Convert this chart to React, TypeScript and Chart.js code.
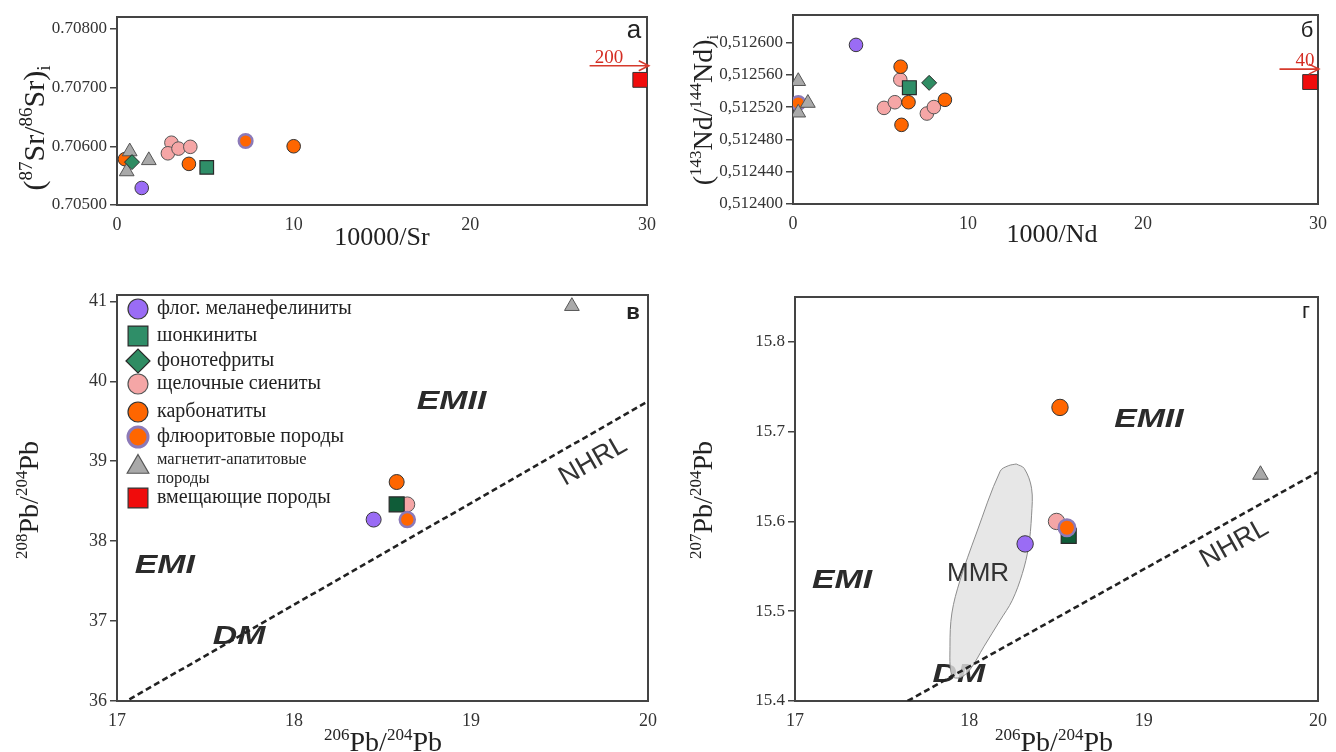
import React, { useEffect, useRef } from 'react';
import { Chart, registerables } from 'chart.js';
import { drawPoint } from 'chart.js/helpers';

Chart.register(...registerables);

const SERIF = '"Liberation Serif", "Times New Roman", serif';
const SANS = '"Liberation Sans", Arial, sans-serif';

// ---------------- Panel а : (87Sr/86Sr)i vs 10000/Sr ----------------
const SR_X_TICKS = [0, 10, 20, 30];
const SR_Y_TICKS = [0.705, 0.706, 0.707, 0.708];
const SR_PHLOG = [{ x: 1.4, y: 0.70529 }];
const SR_SHONK = [{ x: 5.08, y: 0.70564 }];
const SR_PHONO = [{ x: 0.85, y: 0.70573 }];
const SR_SYEN = [
  { x: 3.08, y: 0.70606 },
  { x: 2.88, y: 0.70588 },
  { x: 3.48, y: 0.70596 },
  { x: 4.15, y: 0.70599 },
];
const SR_CARB = [
  { x: 0.45, y: 0.70578 },
  { x: 4.07, y: 0.7057 },
  { x: 10.0, y: 0.706 },
];
const SR_FLUOR = [{ x: 7.28, y: 0.70609 }];
const SR_MAGAP = [
  { x: 0.72, y: 0.70591 },
  { x: 0.55, y: 0.70557 },
  { x: 1.8, y: 0.70576 },
];
const SR_HOST = [{ x: 29.62, y: 0.70713 }];
const SR_ARROW = [
  { x: 26.75, y: 0.70737 },
  { x: 30.1, y: 0.70737 },
];
const SR_ARROW_LABEL = { x: 27.85, text: '200' };

// ---------------- Panel б : (143Nd/144Nd)i vs 1000/Nd ----------------
const ND_X_TICKS = [0, 10, 20, 30];
const ND_Y_TICKS = [0.5124, 0.51244, 0.51248, 0.51252, 0.51256, 0.5126];
const ND_PHLOG = [{ x: 3.6, y: 0.512597 }];
const ND_SHONK = [{ x: 6.65, y: 0.512544 }];
const ND_PHONO = [{ x: 7.78, y: 0.51255 }];
const ND_SYEN = [
  { x: 6.13, y: 0.512554 },
  { x: 5.2, y: 0.512519 },
  { x: 5.82, y: 0.512526 },
  { x: 7.65, y: 0.512512 },
  { x: 8.05, y: 0.51252 },
];
const ND_CARB = [
  { x: 6.15, y: 0.51257 },
  { x: 6.6, y: 0.512526 },
  { x: 8.68, y: 0.512529 },
  { x: 6.2, y: 0.512498 },
];
const ND_FLUOR = [{ x: 0.3, y: 0.512525 }];
const ND_MAGAP = [
  { x: 0.3, y: 0.512552 },
  { x: 0.85, y: 0.512525 },
  { x: 0.3, y: 0.512513 },
];
const ND_HOST = [{ x: 29.55, y: 0.512551 }];
const ND_ARROW = [
  { x: 27.8, y: 0.512567 },
  { x: 30.05, y: 0.512567 },
];
const ND_ARROW_LABEL = { x: 29.25, text: '40' };

// ---------------- Panel в : 208Pb/204Pb vs 206Pb/204Pb ----------------
const PB_X_TICKS = [17, 18, 19, 20];
const PB8_Y_TICKS = [36, 37, 38, 39, 40, 41];
const PB8_PHLOG = [{ x: 18.45, y: 38.27 }];
const PB8_SHONK = [{ x: 18.58, y: 38.46 }];
const PB8_SYEN = [{ x: 18.64, y: 38.46 }];
const PB8_CARB = [{ x: 18.58, y: 38.74 }];
const PB8_FLUOR = [{ x: 18.64, y: 38.27 }];
const PB8_MAGAP = [{ x: 19.57, y: 40.94 }];
const NHRL_208 = [
  { x: 17.07, y: 36.02 },
  { x: 20, y: 39.75 },
];
const PB8_FIELDS = [
  { label: 'EMII', x: 18.89, y: 39.74 },
  { label: 'EMI', x: 17.27, y: 37.69 },
  { label: 'DM', x: 17.69, y: 36.8 },
];
const PB8_NHRL_LABEL = { label: 'NHRL', x: 19.69, y: 39.0 };

// ---------------- Panel г : 207Pb/204Pb vs 206Pb/204Pb ----------------
const PB7_Y_TICKS = [15.4, 15.5, 15.6, 15.7, 15.8];
const PB7_PHLOG = [{ x: 18.32, y: 15.575 }];
const PB7_SHONK = [{ x: 18.57, y: 15.584 }];
const PB7_SYEN = [{ x: 18.5, y: 15.6 }];
const PB7_CARB = [{ x: 18.52, y: 15.727 }];
const PB7_FLUOR = [{ x: 18.56, y: 15.593 }];
const PB7_MAGAP = [{ x: 19.67, y: 15.652 }];
const NHRL_207 = [
  { x: 17.646, y: 15.4 },
  { x: 20, y: 15.655 },
];
const MMR_FIELD = [
  { x: 18.269, y: 15.664 },
  { x: 18.315, y: 15.659 },
  { x: 18.357, y: 15.637 },
  { x: 18.357, y: 15.607 },
  { x: 18.339, y: 15.571 },
  { x: 18.304, y: 15.542 },
  { x: 18.246, y: 15.512 },
  { x: 18.177, y: 15.49 },
  { x: 18.085, y: 15.461 },
  { x: 18.004, y: 15.435 },
  { x: 17.946, y: 15.426 },
  { x: 17.9, y: 15.428 },
  { x: 17.889, y: 15.461 },
  { x: 17.9, y: 15.498 },
  { x: 17.946, y: 15.534 },
  { x: 18.039, y: 15.586 },
  { x: 18.177, y: 15.656 },
  { x: 18.223, y: 15.662 },
  { x: 18.269, y: 15.664 },
];
const PB7_FIELDS = [
  { label: 'EMII', x: 19.03, y: 15.713 },
  { label: 'EMI', x: 17.27, y: 15.534 },
  { label: 'DM', x: 17.94, y: 15.429 },
];
const PB7_MMR_LABEL = { label: 'MMR', x: 18.05, y: 15.542 };
const PB7_NHRL_LABEL = { label: 'NHRL', x: 19.52, y: 15.575 };

// ---------------- Legend ----------------
const LEGEND_KEYS = ['phlog', 'shonk', 'phono', 'syen', 'carb', 'fluor', 'magap', 'host'];
const LEGEND_LABELS = [
  ['флог. меланефелиниты'],
  ['шонкиниты'],
  ['фонотефриты'],
  ['щелочные сиениты'],
  ['карбонатиты'],
  ['флюоритовые породы'],
  ['магнетит-апатитовые', 'породы'],
  ['вмещающие породы'],
];

// ---------------- styles / layout ----------------
type Sty = { pointStyle: string; bg: string; border: string; bw: number };
const STY: Record<string, Sty> = {
  phlog: { pointStyle: 'circle', bg: '#9a6cf5', border: '#3a3a3a', bw: 1 },
  shonk: { pointStyle: 'rect', bg: '#2f8e68', border: '#2a2a2a', bw: 1.2 },
  phono: { pointStyle: 'rectRot', bg: '#2f8c63', border: '#2a2a2a', bw: 1 },
  syen: { pointStyle: 'circle', bg: '#f5a6a6', border: '#555555', bw: 1 },
  carb: { pointStyle: 'circle', bg: '#ff6600', border: '#333333', bw: 1 },
  fluor: { pointStyle: 'circle', bg: '#ff6600', border: '#8c7ab8', bw: 2.5 },
  magap: { pointStyle: 'triangle', bg: '#a9a9a9', border: '#555555', bw: 1 },
  host: { pointStyle: 'rect', bg: '#f00c0c', border: '#333333', bw: 1 },
};
const DARK_SHONK = '#0f5c38';

type Radii = Record<string, number>;
const R_A: Radii = { circle: 6.8, rect: 9.6, rectRot: 7.5, triangle: 8.5 };
const R_B: Radii = { circle: 6.8, rect: 9.8, rectRot: 7.5, triangle: 8.5 };
const R_C: Radii = { circle: 7.5, rect: 10.6, rectRot: 8, triangle: 8.5 };
const R_D: Radii = { circle: 8.2, rect: 10.6, rectRot: 8, triangle: 9 };
const R_LEG: Radii = { circle: 10, rect: 14, rectRot: 12, triangle: 12.5 };

type Layout = { cx: number; cy: number; cw: number; ch: number; L: number; T: number; R: number; B: number };
const LAYOUT_A: Layout = { cx: 0, cy: 0, cw: 668, ch: 260, L: 117, T: 17, R: 647, B: 205 };
const LAYOUT_B: Layout = { cx: 668, cy: 0, cw: 668, ch: 260, L: 793, T: 15, R: 1323, B: 204 };
const LAYOUT_C: Layout = { cx: 0, cy: 260, cw: 668, ch: 492, L: 117, T: 295, R: 648, B: 701 };
const LAYOUT_D: Layout = { cx: 668, cy: 260, cw: 668, ch: 492, L: 795, T: 297, R: 1321, B: 701 };

type Seg = { t: string; k?: 'sup' | 'sub' };
const SR_Y_TITLE: Seg[] = [{ t: '(' }, { t: '87', k: 'sup' }, { t: 'Sr/' }, { t: '86', k: 'sup' }, { t: 'Sr)' }, { t: 'i', k: 'sub' }];
const ND_Y_TITLE: Seg[] = [{ t: '(' }, { t: '143', k: 'sup' }, { t: 'Nd/' }, { t: '144', k: 'sup' }, { t: 'Nd)' }, { t: 'i', k: 'sub' }];
const PB208_TITLE: Seg[] = [{ t: '208', k: 'sup' }, { t: 'Pb/' }, { t: '204', k: 'sup' }, { t: 'Pb' }];
const PB207_TITLE: Seg[] = [{ t: '207', k: 'sup' }, { t: 'Pb/' }, { t: '204', k: 'sup' }, { t: 'Pb' }];
const PB206_TITLE: Seg[] = [{ t: '206', k: 'sup' }, { t: 'Pb/' }, { t: '204', k: 'sup' }, { t: 'Pb' }];

// ---------------- helpers ----------------
function pts(data: any[], key: string, r: Radii, colorOverride?: string) {
  const s = STY[key];
  return {
    data,
    showLine: false,
    pointStyle: s.pointStyle,
    pointRadius: r[s.pointStyle],
    pointBackgroundColor: colorOverride || s.bg,
    pointBorderColor: s.border,
    pointBorderWidth: s.bw,
  };
}

function lineDs(data: any[]) {
  return {
    data,
    showLine: true,
    borderColor: '#222',
    borderWidth: 2.6,
    borderDash: [6, 3.5],
    pointRadius: 0,
    fill: false,
  };
}

function text(ctx: CanvasRenderingContext2D, s: string, x: number, y: number, font: string, color: string,
  align: CanvasTextAlign = 'center', baseline: CanvasTextBaseline = 'middle', rot = 0, stretch = 1) {
  ctx.save();
  ctx.translate(x, y);
  if (rot) ctx.rotate(rot);
  if (stretch !== 1) ctx.scale(stretch, 1);
  ctx.font = font;
  ctx.fillStyle = color;
  ctx.textAlign = align;
  ctx.textBaseline = baseline;
  ctx.fillText(s, 0, 0);
  ctx.restore();
}

function rich(ctx: CanvasRenderingContext2D, segs: Seg[], x: number, y: number, size: number, color: string, rot = 0) {
  ctx.save();
  ctx.translate(x, y);
  if (rot) ctx.rotate(rot);
  ctx.fillStyle = color;
  ctx.textBaseline = 'alphabetic';
  ctx.textAlign = 'left';
  const f = (k?: string) => `${k ? Math.round(size * 0.62) : size}px ${SERIF}`;
  let total = 0;
  const ws = segs.map((s) => {
    ctx.font = f(s.k);
    const w = ctx.measureText(s.t).width;
    total += w;
    return w;
  });
  let cx = -total / 2;
  segs.forEach((s, i) => {
    ctx.font = f(s.k);
    const dy = s.k === 'sup' ? -size * 0.4 : s.k === 'sub' ? size * 0.2 : 0;
    ctx.fillText(s.t, cx, dy);
    cx += ws[i];
  });
  ctx.restore();
}

function P(chart: any, x: number, y: number) {
  return [chart.scales.x.getPixelForValue(x), chart.scales.y.getPixelForValue(y)];
}

function drawArrow(chart: any, arrow: { x: number; y: number }[], label: { x: number; text: string }) {
  const ctx = chart.ctx as CanvasRenderingContext2D;
  const [x0, y0] = P(chart, arrow[0].x, arrow[0].y);
  const [x1, y1] = P(chart, arrow[1].x, arrow[1].y);
  ctx.save();
  ctx.strokeStyle = '#d63a2c';
  ctx.lineWidth = 1.6;
  ctx.beginPath();
  ctx.moveTo(x0, y0);
  ctx.lineTo(x1, y1);
  ctx.moveTo(x1 - 10, y1 - 5);
  ctx.lineTo(x1, y1);
  ctx.lineTo(x1 - 10, y1 + 5);
  ctx.stroke();
  ctx.restore();
  const [lx] = P(chart, label.x, arrow[0].y);
  text(ctx, label.text, lx, y0 - 3, `19px ${SERIF}`, '#d42c22', 'center', 'alphabetic');
}

function fieldLabels(chart: any, items: { label: string; x: number; y: number }[]) {
  const ctx = chart.ctx as CanvasRenderingContext2D;
  items.forEach((it) => {
    const [x, y] = P(chart, it.x, it.y);
    text(ctx, it.label, x, y, `italic bold 26px ${SANS}`, '#2b2b2b', 'center', 'middle', 0, 1.3);
  });
}

function nhrlLabel(chart: any, line: { x: number; y: number }[], lab: { label: string; x: number; y: number }) {
  const ctx = chart.ctx as CanvasRenderingContext2D;
  const [ax, ay] = P(chart, line[0].x, line[0].y);
  const [bx, by] = P(chart, line[1].x, line[1].y);
  const ang = Math.atan2(by - ay, bx - ax);
  const [x, y] = P(chart, lab.x, lab.y);
  text(ctx, lab.label, x, y, `27px ${SANS}`, '#333', 'center', 'middle', ang);
}

function makeOptions(lay: Layout, xr: number[], yr: number[], xTicks: number[], yTicks: number[],
  fmtY: (v: number) => string, yFont: number) {
  return {
    animation: false,
    responsive: false,
    maintainAspectRatio: false,
    events: [],
    layout: { padding: { top: lay.T - lay.cy, right: lay.cx + lay.cw - lay.R, left: 0, bottom: 0 } },
    plugins: { legend: { display: false }, tooltip: { enabled: false } },
    scales: {
      x: {
        type: 'linear',
        min: xr[0],
        max: xr[1],
        afterFit: (s: any) => { s.height = lay.cy + lay.ch - lay.B; },
        afterBuildTicks: (s: any) => { s.ticks = xTicks.map((v) => ({ value: v })); },
        grid: { display: false, drawTicks: false },
        border: { display: false },
        ticks: {
          callback: (v: number) => String(v),
          font: { family: SERIF, size: 18 },
          color: '#333',
          padding: 9,
          maxRotation: 0,
          autoSkip: false,
        },
      },
      y: {
        type: 'linear',
        min: yr[0],
        max: yr[1],
        afterFit: (s: any) => { s.width = lay.L - lay.cx; },
        afterBuildTicks: (s: any) => { s.ticks = yTicks.map((v) => ({ value: v })); },
        grid: { display: true, drawOnChartArea: false, drawTicks: true, tickLength: 7, color: '#444', lineWidth: 1.5 },
        border: { display: false },
        ticks: {
          callback: (v: number) => fmtY(v),
          font: { family: SERIF, size: yFont },
          color: '#333',
          padding: 3,
          autoSkip: false,
        },
      },
    },
  };
}

function framePlugin() {
  return {
    id: 'frame',
    beforeDatasetsDraw(chart: any) {
      const { ctx, chartArea: a } = chart;
      ctx.save();
      ctx.strokeStyle = '#444';
      ctx.lineWidth = 2;
      ctx.strokeRect(a.left, a.top, a.right - a.left, a.bottom - a.top);
      ctx.restore();
    },
  };
}

type Off = (x: number, y: number) => number[];
function overlay(lay: Layout, before: (chart: any, ctx: CanvasRenderingContext2D, o: Off) => void,
  after: (chart: any, ctx: CanvasRenderingContext2D, o: Off) => void) {
  const o: Off = (x, y) => [x - lay.cx, y - lay.cy];
  return {
    id: 'overlay',
    beforeDatasetsDraw(chart: any) { before(chart, chart.ctx, o); },
    afterDraw(chart: any) { after(chart, chart.ctx, o); },
  };
}

function drawLegend(ctx: CanvasRenderingContext2D, o: Off) {
  const rows = [309, 336, 361, 384, 412, 437, 467, 498];
  LEGEND_KEYS.forEach((key, i) => {
    const s = STY[key];
    const [mx, my] = o(138, rows[i]);
    ctx.save();
    ctx.fillStyle = s.bg;
    ctx.strokeStyle = s.border;
    ctx.lineWidth = key === 'fluor' ? 3 : 1.2;
    drawPoint(ctx, { pointStyle: s.pointStyle as any, radius: R_LEG[s.pointStyle], rotation: 0, borderWidth: ctx.lineWidth } as any, mx, my);
    ctx.restore();
    const lines = LEGEND_LABELS[i];
    if (lines.length === 1) {
      const [tx, ty] = o(157, rows[i]);
      text(ctx, lines[0], tx, ty, `20px ${SERIF}`, '#222', 'left', 'middle');
    } else {
      const [tx, ty] = o(157, rows[i] - 7);
      text(ctx, lines[0], tx, ty, `16.5px ${SERIF}`, '#222', 'left', 'middle');
      const [tx2, ty2] = o(157, rows[i] + 12);
      text(ctx, lines[1], tx2, ty2, `16.5px ${SERIF}`, '#222', 'left', 'middle');
    }
  });
}

// ---------------- chart configs ----------------
function configA() {
  const lay = LAYOUT_A;
  return {
    type: 'scatter',
    data: {
      datasets: [
        pts(SR_HOST, 'host', { ...R_A, rect: 10.5 }),
        pts(SR_PHONO, 'phono', R_A),
        pts(SR_MAGAP, 'magap', R_A),
        pts(SR_FLUOR, 'fluor', R_A),
        pts(SR_SHONK, 'shonk', R_A),
        pts(SR_CARB, 'carb', R_A),
        pts(SR_SYEN, 'syen', R_A),
        pts(SR_PHLOG, 'phlog', R_A),
      ],
    },
    options: makeOptions(lay, [0, 30], [0.705, 0.7082], SR_X_TICKS, SR_Y_TICKS, (v) => v.toFixed(5), 17),
    plugins: [
      framePlugin(),
      overlay(lay, () => {}, (chart, ctx, o) => {
        drawArrow(chart, SR_ARROW, SR_ARROW_LABEL);
        let [x, y] = o(382, 245);
        rich(ctx, [{ t: '10000/Sr' }], x, y, 26, '#222');
        [x, y] = o(44, 128);
        rich(ctx, SR_Y_TITLE, x, y, 30, '#222', -Math.PI / 2);
        [x, y] = o(634, 38);
        text(ctx, 'а', x, y, `26px ${SANS}`, '#222', 'center', 'alphabetic');
      }),
    ],
  };
}

function configB() {
  const lay = LAYOUT_B;
  return {
    type: 'scatter',
    data: {
      datasets: [
        pts(ND_HOST, 'host', { ...R_B, rect: 10.5 }),
        pts(ND_PHONO, 'phono', R_B),
        pts(ND_MAGAP, 'magap', R_B),
        pts(ND_FLUOR, 'fluor', R_B),
        pts(ND_SHONK, 'shonk', R_B),
        pts(ND_CARB, 'carb', R_B),
        pts(ND_SYEN, 'syen', R_B),
        pts(ND_PHLOG, 'phlog', R_B),
      ],
    },
    options: makeOptions(lay, [0, 30], [0.5124, 0.512634], ND_X_TICKS, ND_Y_TICKS, (v) => v.toFixed(6).replace('.', ','), 17),
    plugins: [
      framePlugin(),
      overlay(lay, () => {}, (chart, ctx, o) => {
        drawArrow(chart, ND_ARROW, ND_ARROW_LABEL);
        let [x, y] = o(1052, 242);
        rich(ctx, [{ t: '1000/Nd' }], x, y, 26, '#222');
        [x, y] = o(712, 110);
        rich(ctx, ND_Y_TITLE, x, y, 28, '#222', -Math.PI / 2);
        [x, y] = o(1307, 37);
        text(ctx, 'б', x, y, `22px ${SANS}`, '#222', 'center', 'alphabetic');
      }),
    ],
  };
}

function configC() {
  const lay = LAYOUT_C;
  return {
    type: 'scatter',
    data: {
      datasets: [
        pts(PB8_MAGAP, 'magap', R_C),
        pts(PB8_FLUOR, 'fluor', R_C),
        pts(PB8_SHONK, 'shonk', R_C, DARK_SHONK),
        pts(PB8_CARB, 'carb', R_C),
        pts(PB8_SYEN, 'syen', R_C),
        pts(PB8_PHLOG, 'phlog', R_C),
        lineDs(NHRL_208),
      ],
    },
    options: makeOptions(lay, [17, 20], [36, 41.08], PB_X_TICKS, PB8_Y_TICKS, (v) => String(v), 18),
    plugins: [
      framePlugin(),
      overlay(lay, (chart) => {
        fieldLabels(chart, PB8_FIELDS);
        nhrlLabel(chart, NHRL_208, PB8_NHRL_LABEL);
      }, (chart, ctx, o) => {
        drawLegend(ctx, o);
        let [x, y] = o(383, 751);
        rich(ctx, PB206_TITLE, x, y, 28, '#222');
        [x, y] = o(38, 500);
        rich(ctx, PB208_TITLE, x, y, 28, '#222', -Math.PI / 2);
        [x, y] = o(633, 319);
        text(ctx, 'в', x, y, `bold 22px ${SANS}`, '#222', 'center', 'alphabetic');
      }),
    ],
  };
}

function configD() {
  const lay = LAYOUT_D;
  return {
    type: 'scatter',
    data: {
      datasets: [
        pts(PB7_MAGAP, 'magap', R_D),
        pts(PB7_FLUOR, 'fluor', R_D),
        pts(PB7_SHONK, 'shonk', R_D, DARK_SHONK),
        pts(PB7_CARB, 'carb', R_D),
        pts(PB7_SYEN, 'syen', R_D),
        pts(PB7_PHLOG, 'phlog', R_D),
        lineDs(NHRL_207),
        {
          data: MMR_FIELD,
          showLine: true,
          tension: 0.35,
          borderColor: '#8c8c8c',
          borderWidth: 1,
          backgroundColor: 'rgba(226,226,226,0.82)',
          fill: 'shape',
          pointRadius: 0,
        },
      ],
    },
    options: makeOptions(lay, [17, 20], [15.4, 15.85], PB_X_TICKS, PB7_Y_TICKS, (v) => v.toFixed(1), 17),
    plugins: [
      framePlugin(),
      overlay(lay, (chart) => {
        fieldLabels(chart, PB7_FIELDS);
        nhrlLabel(chart, NHRL_207, PB7_NHRL_LABEL);
      }, (chart, ctx, o) => {
        const [mx, my] = P(chart, PB7_MMR_LABEL.x, PB7_MMR_LABEL.y);
        text(ctx, PB7_MMR_LABEL.label, mx, my, `26px ${SANS}`, '#333', 'center', 'middle');
        let [x, y] = o(1054, 751);
        rich(ctx, PB206_TITLE, x, y, 28, '#222');
        [x, y] = o(712, 500);
        rich(ctx, PB207_TITLE, x, y, 28, '#222', -Math.PI / 2);
        [x, y] = o(1306, 318);
        text(ctx, 'г', x, y, `22px ${SANS}`, '#222', 'center', 'alphabetic');
      }),
    ],
  };
}

function Panel({ lay, build }: { lay: Layout; build: () => any }) {
  const ref = useRef<HTMLCanvasElement>(null);
  useEffect(() => {
    const chart = new Chart(ref.current as HTMLCanvasElement, build());
    return () => chart.destroy();
  }, []);
  return (
    <canvas
      ref={ref}
      width={lay.cw}
      height={lay.ch}
      style={{ position: 'absolute', left: lay.cx, top: lay.cy, width: lay.cw, height: lay.ch }}
    />
  );
}

export default function App() {
  return (
    <div style={{ position: 'fixed', left: 0, top: 0, width: 1336, height: 752, background: '#fff', overflow: 'hidden' }}>
      <Panel lay={LAYOUT_A} build={configA} />
      <Panel lay={LAYOUT_B} build={configB} />
      <Panel lay={LAYOUT_C} build={configC} />
      <Panel lay={LAYOUT_D} build={configD} />
    </div>
  );
}
